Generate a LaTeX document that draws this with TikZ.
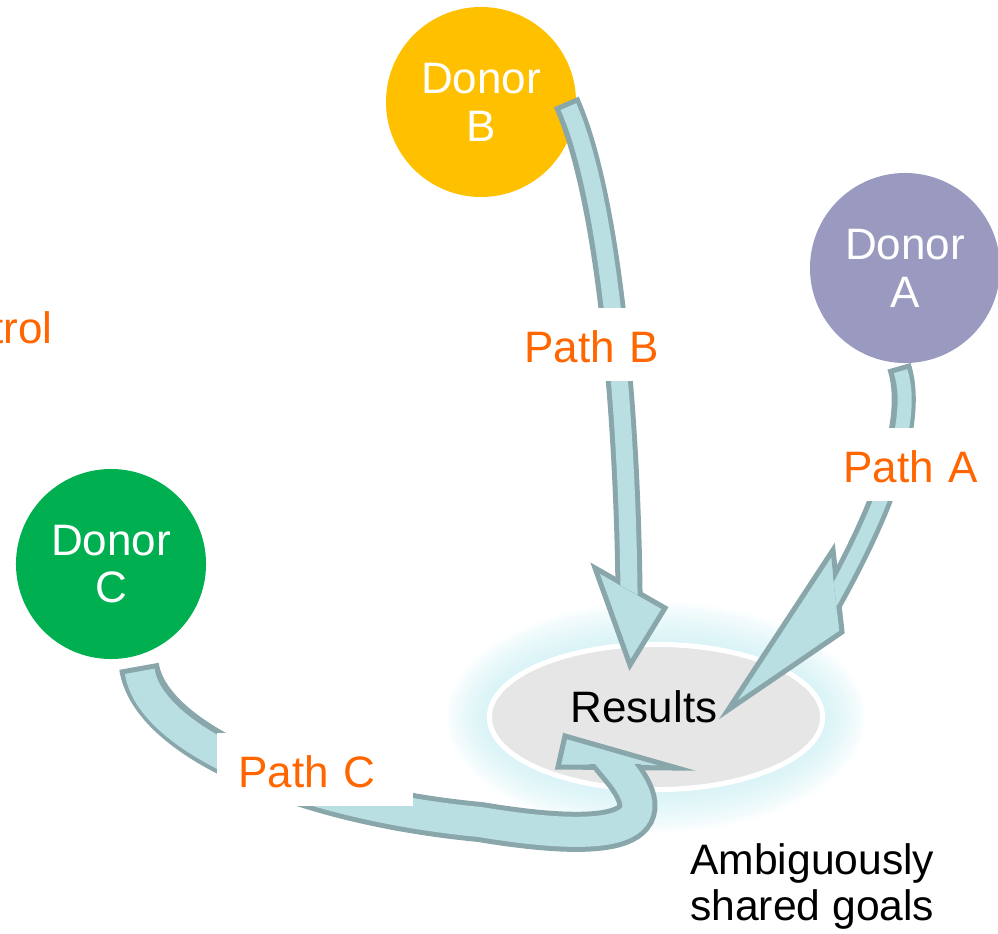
\documentclass[tikz,border=0pt]{standalone}
\usepackage{fontspec}
\setmainfont{Liberation Sans}
\usepackage{tikz}
\usetikzlibrary{calc}
\usetikzlibrary{backgrounds}
\usetikzlibrary{shapes.geometric}
\definecolor{donorA}{HTML}{9A9AC0}
\definecolor{donorB}{HTML}{FFC000}
\definecolor{donorC}{HTML}{00B050}
\definecolor{bluefill}{HTML}{B9DFE3}
\definecolor{tealline}{HTML}{89A7AA}
\definecolor{orangetxt}{HTML}{FF6600}
\definecolor{resgrey}{HTML}{E6E6E6}
\definecolor{glowcyan}{HTML}{BFEBF0}
\newcommand{\lblfont}{\fontsize{31.3}{34}\selectfont}
\tikzset{donor/.style={circle,minimum size=4.75cm,inner sep=0pt,text=white,align=center,font=\lblfont}}
\tikzset{result/.style={ellipse,minimum width=8.33cm,minimum height=3.63cm,inner sep=0pt,fill=resgrey,draw=white,line width=3.6pt,font=\lblfont,text depth=0.5cm}}
\tikzset{pathlbl/.style={fill=white,text=orangetxt,inner xsep=0.525cm,inner ysep=0.25cm,text width=3.85cm,align=left,text height=1.1cm,text depth=0.22cm,font=\lblfont}}
\tikzset{shaftout/.style={draw=tealline,line width=#1}}
\tikzset{shaftin/.style={draw=bluefill,line width=#1,shorten <=3.6pt}}
\tikzset{arrowtip/.style={fill=bluefill,draw=tealline,line width=3.6pt}}

\begin{document}
\begin{tikzpicture}[x=0.025cm,y=-0.025cm]
\useasboundingbox (0,0) rectangle (998,933);

\node[donor,fill=donorB] (donB) at (481,102) {Donor\\B};
\node[donor,fill=donorA] (donA) at (905,268) {Donor\\A};
\node[donor,fill=donorC] (donC) at (111,564) {Donor\\C};

\node[result] (res) at (656,717) {\hspace*{-0.6cm}Results};
\begin{scope}[on background layer]
\foreach \g in {1,...,12}
  \fill[glowcyan,opacity=0.07] (res.center) ellipse ({167+3.5*\g} and {73+3.5*\g});
\end{scope}

% Path B
\coordinate (tB) at ($(donB.east)+(-10,0)$);
\coordinate (pB) at ($(res.center)+(-26,-52)$);
\filldraw[arrowtip] (595,568) -- (pB) -- (665,608) -- cycle;
\begin{scope}
\clip (480,0) -- (760,0) -- (760,665) -- (480,505) -- cycle;
\draw[shaftout=19.2pt] (tB) .. controls (610,200) and (627,420) .. (629,590) -- (630,615);
\draw[shaftin=12.1pt] (tB) .. controls (610,200) and (627,420) .. (629,590) -- (630,615);
\end{scope}

% Path A
\coordinate (tA) at ($(donA.south)+(-6,3)$);
\coordinate (pA) at ($(res.center)+(72,-7)$);
\filldraw[arrowtip] (833,550) -- (pA) -- (842,632) -- cycle;
\begin{scope}
\clip (802,300) -- (998,300) -- (998,700) -- (847,700) -- cycle;
\draw[shaftout=17.1pt] (tA) .. controls (918,425) and (877,520) .. (828,607) -- (812,636);
\draw[shaftin=10pt] (tA) .. controls (918,425) and (877,520) .. (828,607) -- (812,636);
\end{scope}

% Path C
\coordinate (tC) at ($(donC.south)+(28,7)$);
\coordinate (pC) at ($(res.center)+(-91,19)$);
\filldraw[arrowtip] (558,767) -- (pC) -- (677,768) -- cycle;
\begin{scope}
\clip (0,600) -- (540,600) -- (540,764) -- (720,764) -- (720,933) -- (0,933) -- cycle;
\draw[shaftout=28.5pt] (tC) .. controls (150,740) and (300,805) .. (480,822) .. controls (600,842) and (675,835) .. (618,768) -- (599,745);
\draw[shaftin=21.4pt] (tC) .. controls (150,740) and (300,805) .. (480,822) .. controls (600,842) and (675,835) .. (618,768) -- (599,745);
\end{scope}

% labels
\node[pathlbl,anchor=base west] (lblB) at (503,362) {Path B};
\node[pathlbl,anchor=base west] (lblA) at (822,482) {Path A};
\node[pathlbl,anchor=base west] (lblC) at (217,787) {Path C};

\node[text=orangetxt,font=\lblfont,anchor=base west,inner sep=0pt] (ctrl) at (-9,343) {trol};
\node[font=\fontsize{30.3}{33}\selectfont,align=left,anchor=north west,inner sep=0pt] (goals) at (690,843) {Ambiguously\\shared goals};

\end{tikzpicture}
\end{document}
